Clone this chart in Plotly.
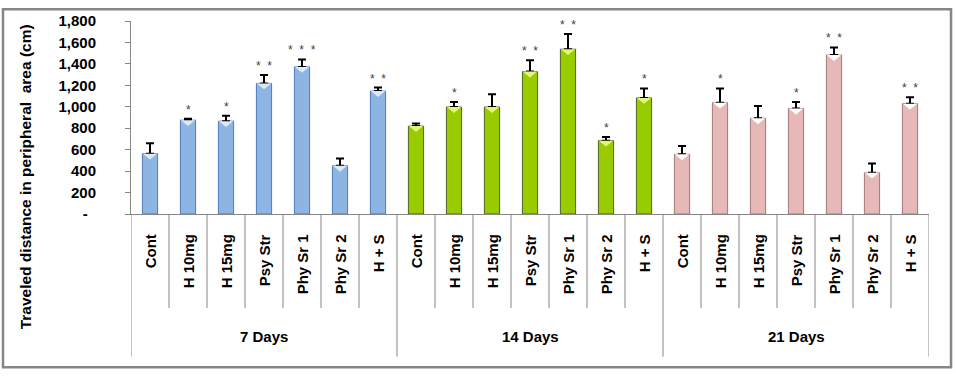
import plotly.graph_objects as go

groups = ["7 Days", "14 Days", "21 Days"]
treatments = ["Cont", "H 10mg", "H 15mg", "Psy Str", "Phy Sr 1", "Phy Sr 2", "H + S"]

values_7 = [563, 875, 866, 1218, 1372, 450, 1146]
errors_7 = [97, 14, 50, 78, 69, 68, 33]
stars_7 = ["", "*", "*", "* *", "* * *", "", "* *"]

values_14 = [820, 998, 998, 1328, 1537, 684, 1083]
errors_14 = [24, 46, 118, 106, 142, 33, 88]
stars_14 = ["", "*", "", "* *", "* *", "*", "*"]

values_21 = [557, 1038, 893, 984, 1483, 385, 1029]
errors_21 = [78, 133, 114, 60, 71, 87, 60]
stars_21 = ["", "*", "", "*", "* *", "", "* *"]

y_ticks = [0, 200, 400, 600, 800, 1000, 1200, 1400, 1600, 1800]
y_ticktext = ["-\u00a0\u00a0", "200", "400", "600", "800", "1,000", "1,200", "1,400", "1,600", "1,800"]
y_title = "Traveled distance in peripheral  area (cm)"

fills = ["#8EB4E3", "#99CC00", "#E6B9B8"]
edges = ["#4A7EBB", "#4F6228", "#A07878"]
highlights = ["#DCE9F7", "#E4F57A", "#FFFFFF"]

FONT = "Arial, Liberation Sans, sans-serif"
AXIS_GRAY = "#868686"

all_values = [values_7, values_14, values_21]
all_errors = [errors_7, errors_14, errors_21]
all_stars = [stars_7, stars_14, stars_21]

fig = go.Figure()
n_t = len(treatments)
shapes = []
annotations = []

for g, name in enumerate(groups):
    xs = [g * n_t + i for i in range(n_t)]
    vals = all_values[g]
    errs = all_errors[g]
    fig.add_trace(go.Bar(
        x=xs, y=vals, width=0.4,
        marker=dict(color=fills[g], line=dict(color=edges[g], width=1)),
        error_y=dict(type="data", array=errs, arrayminus=[0] * n_t, symmetric=False,
                     color="black", thickness=2, width=4),
        showlegend=False, name=name,
    ))
    # top highlight triangles (bevel look)
    for x, v in zip(xs, vals):
        shapes.append(dict(type="path", xref="x", yref="y",
                           path=f"M {x-0.19},{v} L {x+0.19},{v} L {x},{v-55} Z",
                           fillcolor=highlights[g], line=dict(width=0), layer="above"))
    # significance stars
    for x, v, e, s in zip(xs, vals, errs, all_stars[g]):
        if s:
            annotations.append(dict(x=x, y=v + e, xref="x", yref="y",
                                    text=s.replace(" ", "\u00a0\u00a0"),
                                    showarrow=False, yanchor="bottom", yshift=0,
                                    font=dict(family=FONT, size=12, color="#404040")))
    # group label
    annotations.append(dict(x=g * n_t + (n_t - 1) / 2, y=-0.633, xref="x", yref="paper",
                            text=name, showarrow=False, yanchor="middle",
                            font=dict(family=FONT, size=15, color="black", weight="bold")))
    # treatment labels
    for x, t in zip(xs, treatments):
        annotations.append(dict(x=x, y=-0.095, xref="x", yref="paper", text=t,
                                textangle=-90, showarrow=False, yanchor="top",
                                xanchor="center",
                                font=dict(family=FONT, size=15, color="black", weight="bold")))

n_all = n_t * len(groups)
for b in range(n_all + 1):
    xb = b - 0.5
    is_group = (b % n_t == 0)
    shapes.append(dict(type="line", xref="x", yref="paper", x0=xb, x1=xb,
                       y0=0, y1=-0.739 if is_group else -0.487,
                       line=dict(color=AXIS_GRAY, width=1)))

# outer chart border
shapes.append(dict(type="rect", xref="paper", yref="paper",
                   x0=-0.1604, x1=1.0276, y0=-0.794, y1=1.0603,
                   line=dict(color=AXIS_GRAY, width=2.5), fillcolor="rgba(0,0,0,0)"))

annotations.append(dict(x=-0.1328, y=0.19, xref="paper", yref="paper", text=y_title,
                        textangle=-90, showarrow=False, xanchor="center", yanchor="middle",
                        font=dict(family=FONT, size=15.5, color="black", weight="bold")))

fig.update_layout(
    width=956, height=376,
    margin=dict(l=131, r=27, t=15, b=162, pad=0),
    paper_bgcolor="white", plot_bgcolor="white",
    bargap=0.6,
    shapes=shapes, annotations=annotations,
    xaxis=dict(range=[-0.5, n_all - 0.5], showticklabels=False, ticks="",
               showgrid=False, zeroline=False, showline=True, linecolor=AXIS_GRAY,
               linewidth=1, fixedrange=True),
    yaxis=dict(range=[0, 1800], tickvals=y_ticks, ticktext=y_ticktext,
               ticks="outside", ticklen=5, tickcolor=AXIS_GRAY,
               showgrid=False, zeroline=False, showline=True, linecolor=AXIS_GRAY,
               linewidth=1, ticklabelstandoff=26,
               tickfont=dict(family=FONT, size=15, color="black", weight="bold"),
               fixedrange=True),
)

fig.write_html("out.html", config={"displayModeBar": False},
               post_script="document.body.style.margin='0';document.body.style.overflow='hidden';")
